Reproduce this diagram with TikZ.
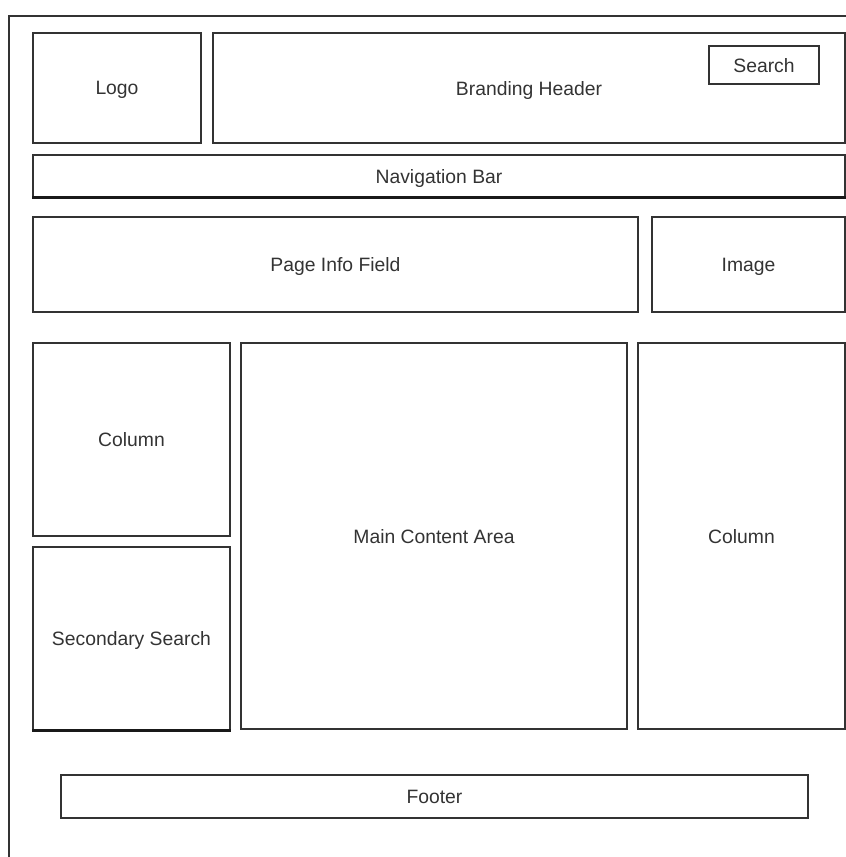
\documentclass[tikz,border=0pt]{standalone}
\usepackage{fontspec}
\setmainfont{Liberation Sans}
\usepackage{tikz}
\usetikzlibrary{positioning, fit, backgrounds}
\tikzset{>=stealth}
\tikzset{block/.style={draw=black!80, line width=.9pt, inner sep=0pt, text depth=0pt, text=black!80, font=\fontsize{11}{13}\selectfont}}

\begin{document}
\begin{tikzpicture}[thick]
		\useasboundingbox (0,0) rectangle (16.92,-17.14);
		% page frame
		\draw [black!80, line width=.9pt] (0.18,-17.14) |- (16.92,-0.32);
		
		\node [block, minimum width=3.36cm, minimum height=2.2cm] (logo) at (2.34,-1.76) {Logo};
		\node [block, minimum width=12.64cm, minimum height=2.2cm] (brand) at (10.58,-1.76) {Branding Header};
		\node [block, minimum width=2.2cm, minimum height=.76cm] (search) at (15.28,-1.30) {Search};
		\node [block, minimum width=16.24cm, minimum height=.84cm] (nav) at (8.78,-3.52) {Navigation Bar};
		\node [block, minimum width=12.1cm, minimum height=1.9cm] (info) at (6.71,-5.29) {Page Info Field};
		\node [block, minimum width=3.86cm, minimum height=1.9cm] (image) at (14.97,-5.29) {Image};
		\node [block, minimum width=3.94cm, minimum height=3.86cm] (colL) at (2.63,-8.79) {Column};
		\node [block, minimum width=3.94cm, minimum height=3.66cm] (second) at (2.63,-12.77) {Secondary Search};
		\node [block, minimum width=7.72cm, minimum height=7.72cm] (main) at (8.68,-10.72) {Main Content Area};
		\node [block, minimum width=4.14cm, minimum height=7.72cm] (colR) at (14.83,-10.72) {Column};
		\node [block, minimum width=14.94cm, minimum height=.86cm] (footer) at (8.69,-15.93) {Footer};
		
		% heavier bottom edges
		\draw [black!90, line width=1.6pt] (nav.south west) -- (nav.south east);
		\draw [black!90, line width=1.6pt] (second.south west) -- (second.south east);
		\end{tikzpicture}
\end{document}
